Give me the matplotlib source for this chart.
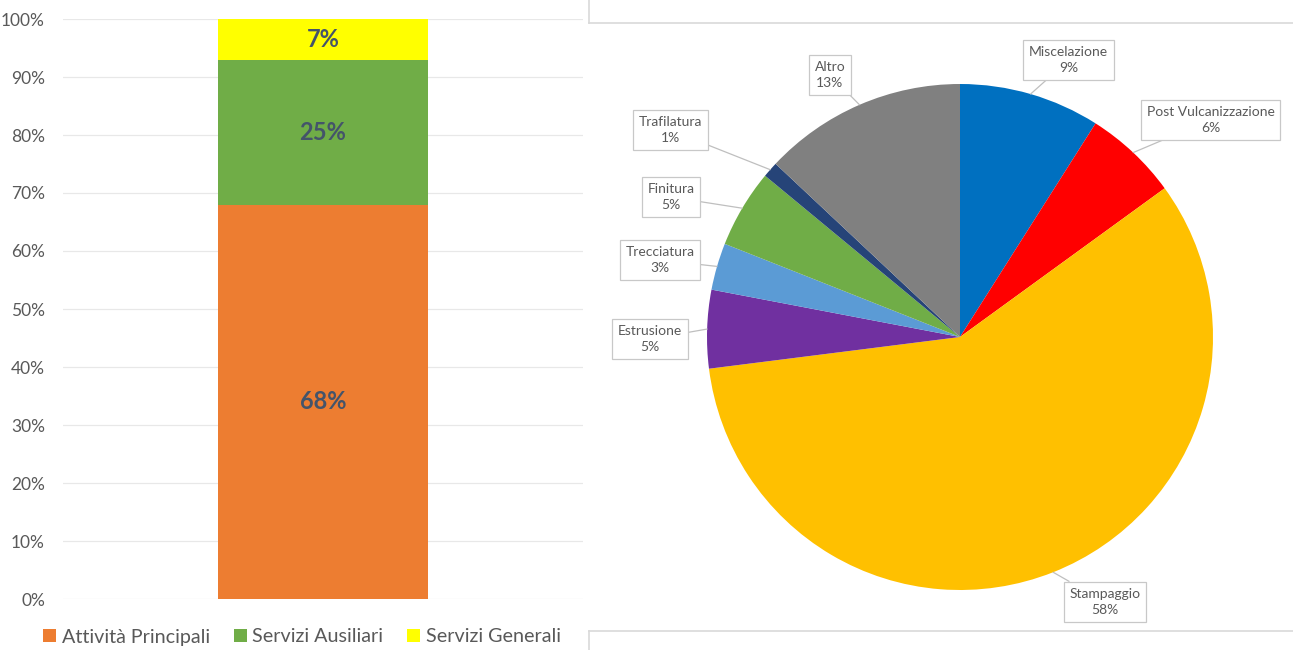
import matplotlib.pyplot as plt
import numpy as np
from matplotlib.lines import Line2D

plt.rcParams['font.family'] = ['Lato', 'DejaVu Sans']

# stacked bar data
bar_labels = ['Attività Principali', 'Servizi Ausiliari', 'Servizi Generali']
bar_values = [68, 25, 7]
bar_colors = ['#ED7D31', '#70AD47', '#FFFF00']

# pie data (clockwise from the top)
pie_labels = ['Miscelazione', 'Post Vulcanizzazione', 'Stampaggio', 'Estrusione',
              'Trecciatura', 'Finitura', 'Trafilatura', 'Altro']
pie_values = [9, 6, 58, 5, 3, 5, 1, 13]
pie_colors = ['#0070C0', '#FF0000', '#FFC000', '#7030A0',
              '#5B9BD5', '#70AD47', '#264478', '#808080']
# where each callout box sits (pie radius units)
box_pos = [(0.43, 1.095), (0.99, 0.858), (0.573, -1.047), (-1.225, -0.008),
           (-1.186, 0.304), (-1.142, 0.553), (-1.146, 0.818), (-0.514, 1.036)]

W, H = 1293, 650
fig = plt.figure(figsize=(W / 100, H / 100), dpi=100)

# ---- left: 100% stacked column ----
ax = fig.add_axes([63 / W, 51 / H, 520 / W, 580 / H])
bottom = 0
for lab, v, c in zip(bar_labels, bar_values, bar_colors):
    ax.bar(0, v / 100, bottom=bottom, width=0.402, color=c, label=lab, zorder=2)
    ax.text(0, bottom + v / 200, f'{v}%', ha='center', va='center',
            fontsize=17, fontweight='bold', color='#44546A', zorder=3)
    bottom += v / 100
ax.set_xlim(-0.5, 0.5)
ax.set_ylim(0, 1)
ax.set_yticks(np.arange(0, 1.01, 0.1))
ax.set_yticklabels([f'{int(round(t * 100))}%' for t in np.arange(0, 1.01, 0.1)])
ax.set_xticks([])
ax.tick_params(axis='y', length=0, labelsize=12.5, labelcolor='#595959', pad=13)
ax.grid(axis='y', color='#E8E8E8', lw=0.9, zorder=0)
for s in ax.spines.values():
    s.set_visible(False)
ax.legend(loc='center', bbox_to_anchor=(302 / W, 13 / H), bbox_transform=fig.transFigure,
          ncol=3, frameon=False, fontsize=14.2, labelcolor='#595959',
          handlelength=0.65, handleheight=0.65, handletextpad=0.3, columnspacing=1.2)

# ---- right: pie with callouts ----
r = 253
cx, cy = 960, 337
x0, x1, ytop, ybot = 589, 1293, 23, 631
pax = fig.add_axes([x0 / W, (H - ybot) / H, (x1 - x0) / W, (ybot - ytop) / H])
wedges, _ = pax.pie(pie_values, colors=pie_colors, startangle=90, counterclock=False,
                    radius=1, wedgeprops=dict(linewidth=0))
pax.set_xlim(-(cx - x0) / r, (x1 - cx) / r)
pax.set_ylim(-(ybot - cy) / r, (cy - ytop) / r)
pax.set_aspect('auto')

total = sum(pie_values)
cum = 0
for lab, v, pos in zip(pie_labels, pie_values, box_pos):
    mid = (cum + v / 2) / total * 2 * np.pi
    cum += v
    pt = (np.sin(mid), np.cos(mid))
    pax.annotate(f'{lab}\n{v}%', xy=pt, xytext=pos, ha='center', va='center',
                 fontsize=10, color='#595959', linespacing=1.45,
                 bbox=dict(boxstyle='square,pad=0.42', fc='white', ec='#C8C8C8', lw=0.9),
                 arrowprops=dict(arrowstyle='-', color='#BFBFBF', lw=0.9,
                                 shrinkA=0, shrinkB=0),
                 annotation_clip=False)

# light frame around the right panel
lc = '#D9D9D9'
for xs, ys in [((x0, W), (ytop, ytop)), ((x0, x0), (0, ytop)),
               ((x0, W), (ybot, ybot)), ((x0, x0), (ybot, H))]:
    fig.add_artist(Line2D([x / W for x in xs], [1 - y / H for y in ys],
                          color=lc, lw=1.2))

fig.savefig('out.png', dpi=100, facecolor='white')
